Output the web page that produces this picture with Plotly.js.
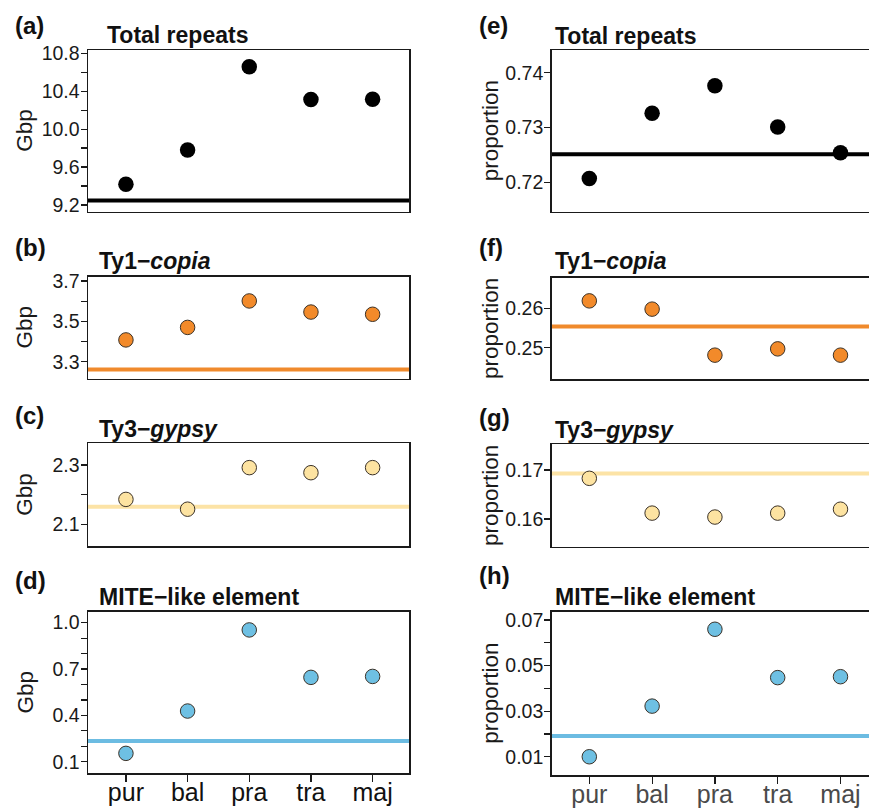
<!DOCTYPE html>
<html>
<head>
<meta charset="utf-8">
<script src="https://cdn.plot.ly/plotly-3.0.1.min.js"></script>
<style>html,body{margin:0;padding:0;background:#fff;overflow:hidden}</style>
</head>
<body>
<div id="chart" style="width:869px;height:808px"></div>
<script>
// ---- data ----
const categories = ['pur', 'bal', 'pra', 'tra', 'maj'];

const totalGbp   = [9.418, 9.780, 10.659, 10.312, 10.316];
const copiaGbp   = [3.408, 3.470, 3.601, 3.546, 3.535];
const gypsyGbp   = [2.184, 2.151, 2.291, 2.274, 2.291];
const miteGbp    = [0.154, 0.428, 0.953, 0.646, 0.652];

const totalProp  = [0.7207, 0.7326, 0.7376, 0.7301, 0.7254];
const copiaProp  = [0.2619, 0.2598, 0.2481, 0.2497, 0.2481];
const gypsyProp  = [0.1683, 0.1612, 0.1604, 0.1612, 0.1620];
const miteProp   = [0.0100, 0.0322, 0.0659, 0.0447, 0.0451];

// reference (horizontal line) values
const refGbp  = [9.247, 3.262, 2.159, 0.234];
const refProp = [0.7251, 0.2554, 0.1693, 0.0191];

// tick values / labels
const aTicks = [9.2, 9.4, 9.6, 9.8, 10.0, 10.2, 10.4, 10.6, 10.8];
const aLabels = ['9.2', '', '9.6', '', '10.0', '', '10.4', '', '10.8'];
const bTicks = [3.3, 3.4, 3.5, 3.6, 3.7];
const bLabels = ['3.3', '', '3.5', '', '3.7'];
const cTicks = [2.1, 2.2, 2.3];
const cLabels = ['2.1', '', '2.3'];
const dTicks = [0.1, 0.2, 0.3, 0.4, 0.5, 0.6, 0.7, 0.8, 0.9, 1.0];
const dLabels = ['0.1', '', '', '0.4', '', '', '0.7', '', '', '1.0'];
const eTicks = [0.72, 0.73, 0.74];
const eLabels = ['0.72', '0.73', '0.74'];
const fTicks = [0.25, 0.26];
const fLabels = ['0.25', '0.26'];
const gTicks = [0.16, 0.17];
const gLabels = ['0.16', '0.17'];
const hTicks = [0.01, 0.02, 0.03, 0.04, 0.05, 0.06, 0.07];
const hLabels = ['0.01', '', '0.03', '', '0.05', '', '0.07'];

const panelLetters = ['(a)', '(b)', '(c)', '(d)', '(e)', '(f)', '(g)', '(h)'];
const panelTitles = ['Total repeats', 'Ty1−<i>copia</i>', 'Ty3−<i>gypsy</i>', 'MITE−like element'];
const yTitleLeft = 'Gbp';
const yTitleRight = 'proportion';

// ---- styling / layout ----
const W = 869, H = 808;
const FONT = 'Liberation Sans, Arial, Helvetica, sans-serif';
const colors = {
  total: {fill: '#000000', line: '#000000'},
  copia: {fill: '#F28A2A', line: '#F08A2C'},
  gypsy: {fill: '#FDE3A1', line: '#FCE3A6'},
  mite:  {fill: '#6EC0E3', line: '#6CBCE2'}
};
const keys = ['total', 'copia', 'gypsy', 'mite'];

const px = x => x / W;
const py = y => (H - y) / H;

// panel boxes in pixels: [left, right, top, bottom]
const boxes = [
  [88, 409, 50, 211.5],
  [88, 409, 276.7, 378.5],
  [88, 409, 443.3, 546],
  [88, 409, 611.7, 773.3],
  [551.7, 869, 50, 211.7],
  [551.7, 869, 277.7, 379.3],
  [551.7, 869, 444.3, 546.7],
  [551.7, 869, 611.7, 775]
];
const yRanges = [
  [9.131, 10.835], [3.217, 3.721], [2.027, 2.373], [0.025, 1.071],
  [0.71464, 0.74414], [0.24196, 0.26779], [0.15435, 0.17524], [0.002, 0.0736]
];
const xRangeLeft = [-0.615, 4.59];
const xRangeRight = [-0.599, 4.454];

const series = [totalGbp, copiaGbp, gypsyGbp, miteGbp, totalProp, copiaProp, gypsyProp, miteProp];
const refs = refGbp.concat(refProp);
const ticks = [aTicks, bTicks, cTicks, dTicks, eTicks, fTicks, gTicks, hTicks];
const tickLabels = [aLabels, bLabels, cLabels, dLabels, eLabels, fLabels, gLabels, hLabels];

// annotation positions (pixels)
const letterPos = [[13, 25], [13, 247], [13, 415], [13, 580], [476.7, 25], [476.7, 247], [476.7, 417], [476.7, 575]];
const titlePos = [[105, 35], [97.3, 261], [96.7, 429], [96.7, 597], [553.3, 36], [553.3, 261], [553.3, 430], [553.3, 597]];

const traces = [];
const layout = {
  width: W, height: H,
  margin: {l: 0, r: 0, t: 0, b: 0},
  paper_bgcolor: '#ffffff',
  plot_bgcolor: '#ffffff',
  showlegend: false,
  font: {family: FONT, color: '#1a1a1a'},
  shapes: [],
  annotations: []
};

for (let i = 0; i < 8; i++) {
  const k = keys[i % 4];
  const right = i >= 4;
  const bottom = (i % 4) === 3;
  const n = i + 1;
  const xa = 'x' + (n === 1 ? '' : n);
  const ya = 'y' + (n === 1 ? '' : n);
  const xName = 'xaxis' + (n === 1 ? '' : n);
  const yName = 'yaxis' + (n === 1 ? '' : n);
  const b = boxes[i];
  const black = k === 'total';

  traces.push({
    type: 'scatter', mode: 'markers',
    x: categories, y: series[i],
    xaxis: xa, yaxis: ya,
    marker: {
      size: black ? 15.5 : 14.5,
      color: colors[k].fill,
      line: {color: black ? '#000000' : '#3b3228', width: black ? 0 : 1}
    },
    hoverinfo: 'x+y'
  });

  layout.shapes.push({
    type: 'line', layer: 'below',
    xref: xa + ' domain', yref: ya,
    x0: 0, x1: 1, y0: refs[i], y1: refs[i],
    line: {color: colors[k].line, width: 4}
  });

  layout[xName] = {
    domain: [px(b[0]), Math.min(1, px(b[1]))],
    anchor: ya,
    type: 'category',
    range: right ? xRangeRight : xRangeLeft,
    showgrid: false, zeroline: false,
    showline: true, linecolor: '#1a1a1a', linewidth: 1.5, mirror: true,
    ticks: bottom ? 'outside' : '',
    ticklen: 7, tickwidth: 1.2, tickcolor: '#1a1a1a',
    showticklabels: bottom,
    ticklabelstandoff: -11,
    tickfont: {family: FONT, size: 25, color: right ? '#4a4a4a' : '#111111'},
    fixedrange: true
  };
  layout[yName] = {
    domain: [py(b[3]), py(b[2])],
    anchor: xa,
    range: yRanges[i],
    showgrid: false, zeroline: false,
    showline: true, linecolor: '#1a1a1a', linewidth: 1.5, mirror: !right,
    ticks: 'outside', ticklen: 6, tickwidth: 1.2, tickcolor: '#1a1a1a',
    tickmode: 'array', tickvals: ticks[i], ticktext: tickLabels[i],
    ticklabelstandoff: -3,
    tickfont: {family: FONT, size: 19.5, color: '#1a1a1a'},
    fixedrange: true
  };

  // panel letter
  layout.annotations.push({
    xref: 'paper', yref: 'paper',
    x: px(letterPos[i][0]), y: py(letterPos[i][1]),
    xanchor: 'left', yanchor: 'middle', showarrow: false,
    text: '<b>' + panelLetters[i] + '</b>',
    font: {family: FONT, size: 24, color: '#111111'}
  });
  // panel title
  layout.annotations.push({
    xref: 'paper', yref: 'paper',
    x: px(titlePos[i][0]), y: py(titlePos[i][1]),
    xanchor: 'left', yanchor: 'middle', showarrow: false,
    text: '<b>' + panelTitles[i % 4] + '</b>',
    font: {family: FONT, size: 23, color: '#111111'}
  });
  // y axis title
  layout.annotations.push({
    xref: 'paper', yref: 'paper',
    x: px(right ? 490.5 : 25), y: py((b[2] + b[3]) / 2),
    xanchor: 'center', yanchor: 'middle', showarrow: false,
    textangle: -90,
    text: right ? yTitleRight : yTitleLeft,
    font: {family: FONT, size: 22.5, color: '#1a1a1a'}
  });
}

Plotly.newPlot('chart', traces, layout, {displayModeBar: false, staticPlot: true});
</script>
</body>
</html>
